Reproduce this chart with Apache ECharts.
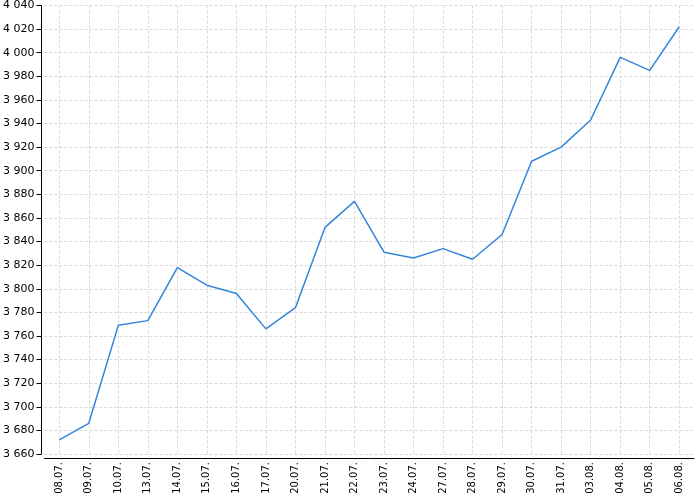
<!DOCTYPE html>
<html>
<head>
<meta charset="utf-8">
<script src="https://cdn.jsdelivr.net/npm/echarts@6/dist/echarts.min.js"></script>
<style>html,body{margin:0;padding:0;background:#fff}#c{width:700px;height:500px}</style>
</head>
<body>
<div id="c"></div>
<script>
const categories = ['08.07.','09.07.','10.07.','13.07.','14.07.','15.07.','16.07.','17.07.','20.07.','21.07.','22.07.','23.07.','24.07.','27.07.','28.07.','29.07.','30.07.','31.07.','03.08.','04.08.','05.08.','06.08.'];
const values = [3672, 3686, 3769, 3773, 3818, 3803, 3796, 3766, 3784, 3852, 3874, 3831, 3826, 3834, 3825, 3846, 3908, 3920, 3943, 3996, 3985, 4022];
const yMin = 3660, yMax = 4040, yStep = 20;

const chart = echarts.init(document.getElementById('c'));
const fmt = v => String(v).replace(/\B(?=(\d{3})+(?!\d))/g, ' ');
chart.setOption({
  animation: false,
  grid: { left: 42, right: 6, top: 5, bottom: 46, containLabel: false },
  xAxis: {
    type: 'category',
    data: categories,
    boundaryGap: true,
    offset: 4,
    axisLine: { lineStyle: { color: '#000', width: 1 } },
    axisTick: { alignWithLabel: true, length: 4, lineStyle: { color: '#000' } },
    axisLabel: { rotate: 90, interval: 0, margin: 4, color: '#000', fontFamily: 'DejaVu Sans', fontSize: 10 },
    splitLine: { show: true, alignWithLabel: true, lineStyle: { color: '#d9d9d9', type: [3, 2], width: 1 } }
  },
  yAxis: {
    type: 'value',
    min: yMin, max: yMax, interval: yStep,
    offset: 3,
    axisLine: { show: true, lineStyle: { color: '#000', width: 1 } },
    axisTick: { show: true, length: 5, lineStyle: { color: '#000' } },
    axisLabel: { formatter: fmt, margin: 7, color: '#000', fontFamily: 'DejaVu Sans', fontSize: 11 },
    splitLine: { show: true, lineStyle: { color: '#d9d9d9', type: [3, 2], width: 1 } }
  },
  series: [{
    type: 'line',
    data: values,
    symbol: 'none',
    lineStyle: { color: '#3385dc', width: 1.5 },
    itemStyle: { color: '#3385dc' }
  }]
});
</script>
</body>
</html>
